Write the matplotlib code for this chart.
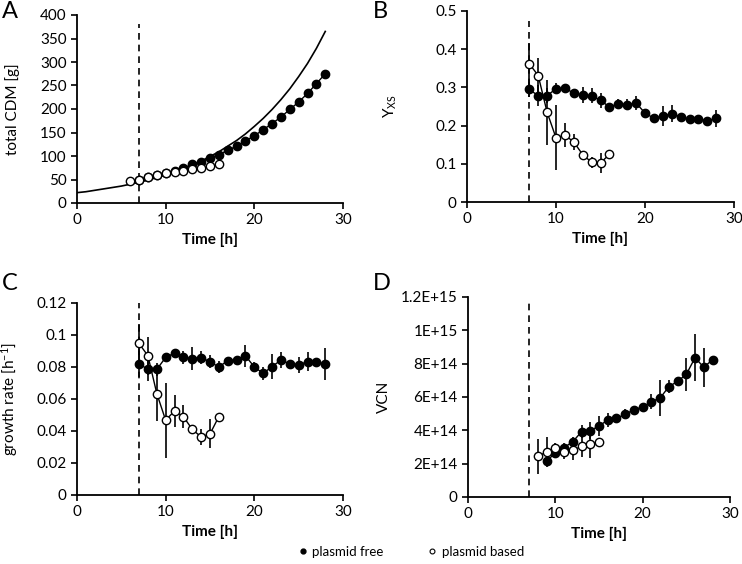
import matplotlib
matplotlib.use("Agg")
import matplotlib.pyplot as plt
from matplotlib.lines import Line2D

plt.rcParams['font.family'] = ['Lato', 'DejaVu Sans']
plt.rcParams['mathtext.default'] = 'regular'

# ---- data ----
# A: total CDM [g]
a_free_t = list(range(7, 29))
a_free = [50, 55, 60, 64, 68, 74.6, 82, 87, 96, 103, 112, 121, 132, 143, 156, 169,
          183, 199, 215, 233, 254, 275]
a_free_err = [0] * 20 + [4, 7]
a_based_t = list(range(6, 17))
a_based = [46, 50, 55, 60, 63, 67, 68, 72, 75, 78, 82]
a_model_t = list(range(0, 29))
a_model = [22, 24, 27, 30, 33, 36, 40, 44, 49, 54, 60, 66, 73, 81, 89, 99, 109, 121,
           133, 147, 163, 180, 199, 220, 243, 269, 297, 329, 365]

# B: Yxs
b_free_t = list(range(7, 29))
b_free = [0.295, 0.278, 0.278, 0.297, 0.298, 0.285, 0.280, 0.278, 0.266, 0.249, 0.257,
          0.255, 0.259, 0.233, 0.219, 0.225, 0.231, 0.223, 0.216, 0.217, 0.213, 0.219]
b_free_err = [0.02, 0.027, 0.02, 0.015, 0.01, 0.005, 0.02, 0.02, 0.02, 0.005, 0.013,
              0.015, 0.018, 0.005, 0.008, 0.027, 0.022, 0.005, 0.005, 0.005, 0.005, 0.022]
b_based_t = list(range(7, 17))
b_based = [0.362, 0.331, 0.235, 0.168, 0.175, 0.157, 0.124, 0.104, 0.102, 0.125]
b_based_err = [0.055, 0.045, 0.085, 0.085, 0.031, 0.02, 0.004, 0.015, 0.025, 0.004]

# C: growth rate [1/h]
c_free_t = list(range(7, 29))
c_free = [0.082, 0.0785, 0.0785, 0.086, 0.0887, 0.086, 0.0853, 0.0858, 0.0833, 0.080,
          0.084, 0.0843, 0.087, 0.080, 0.076, 0.0803, 0.0843, 0.082, 0.0814, 0.0833,
          0.0833, 0.0816]
c_free_err = [0.008, 0.007, 0.004, 0.003, 0.002, 0.004, 0.007, 0.004, 0.004, 0.004,
              0.002, 0.002, 0.007, 0.003, 0.004, 0.008, 0.005, 0.002, 0.005, 0.006,
              0.002, 0.010]
c_based_t = list(range(7, 17))
c_based = [0.0947, 0.087, 0.0634, 0.0467, 0.0526, 0.049, 0.041, 0.0363, 0.0382, 0.049]
c_based_err = [0.0123, 0.012, 0.017, 0.0234, 0.01, 0.007, 0.001, 0.005, 0.009, 0.001]

# D: VCN
d_free_t = list(range(9, 29))
d_free = [2.16e14, 2.64e14, 2.96e14, 3.32e14, 3.92e14, 3.98e14, 4.26e14, 4.62e14,
          4.72e14, 4.96e14, 5.24e14, 5.4e14, 5.72e14, 5.94e14, 6.62e14, 6.94e14,
          7.36e14, 8.36e14, 7.78e14, 8.24e14]
d_free_err = [0.2e14, 0.2e14, 0.3e14, 0.3e14, 0.4e14, 0.5e14, 0.6e14, 0.4e14, 0.1e14,
              0.3e14, 0.1e14, 0.1e14, 0.45e14, 1.1e14, 0.4e14, 0.2e14, 1.0e14, 1.4e14,
              1.15e14, 0]
d_based_t = list(range(8, 16))
d_based = [2.44e14, 2.7e14, 2.96e14, 2.7e14, 2.8e14, 3.04e14, 3.16e14, 3.28e14]
d_based_err = [1.05e14, 0.9e14, 0.3e14, 0.4e14, 0.55e14, 0.65e14, 0.8e14, 0]
d_ticks = [0, 2e14, 4e14, 6e14, 8e14, 1e15, 1.2e15]
d_ticklabels = ['0', '2E+14', '4E+14', '6E+14', '8E+14', '1E+15', '1.2E+15']

feed_start = 7

W, H = 742, 564
fig = plt.figure(figsize=(W / 100, H / 100), dpi=100)


def px_axes(left, top, right, bottom):
    return fig.add_axes([left / W, 1 - bottom / H, (right - left) / W, (bottom - top) / H])


def style(ax, ylabel, ylab_x):
    for s in ['top', 'right']:
        ax.spines[s].set_visible(False)
    for s in ['left', 'bottom']:
        ax.spines[s].set_linewidth(1.3)
    ax.tick_params(direction='out', length=4, width=1.2, labelsize=11)
    ax.set_xlim(0, 30)
    ax.set_xticks([0, 10, 20, 30])
    ax.set_xlabel('Time [h]', fontsize=11, fontweight='bold')
    ax.set_ylabel(ylabel, fontsize=11)
    ax.yaxis.set_label_coords(ylab_x, 0.5)


def series(ax, t, y, err, filled):
    fc = 'black' if filled else 'white'
    ax.errorbar(t, y, yerr=err, fmt='-o', color='black', lw=1, ms=6, mfc=fc, mec='black',
                mew=1, elinewidth=1.2, capsize=0, zorder=3 if filled else 4)


ax_a = px_axes(77, 15, 343, 203)
ax_a.plot(a_model_t, a_model, color='black', lw=1.2, zorder=2)
series(ax_a, a_free_t, a_free, a_free_err, True)
ax_a.plot(a_based_t, a_based, 'o', color='black', ms=6, mfc='white', mew=1, zorder=4)
ax_a.axvline(feed_start, ymax=0.95, color='black', ls=(0, (4, 3)), lw=1.2)
ax_a.set_ylim(0, 400)
ax_a.set_yticks(range(0, 401, 50))
style(ax_a, 'total CDM [g]', -0.215)

ax_b = px_axes(467, 11, 734, 202)
series(ax_b, b_free_t, b_free, b_free_err, True)
series(ax_b, b_based_t, b_based, b_based_err, False)
ax_b.axvline(feed_start, ymax=0.95, color='black', ls=(0, (4, 3)), lw=1.2)
ax_b.set_ylim(0, 0.5)
ax_b.set_yticks([0, 0.1, 0.2, 0.3, 0.4, 0.5])
ax_b.set_yticklabels(['0', '0.1', '0.2', '0.3', '0.4', '0.5'])
style(ax_b, 'Y$_{XS}$', -0.255)

ax_c = px_axes(77, 303, 343, 495)
series(ax_c, c_free_t, c_free, c_free_err, True)
series(ax_c, c_based_t, c_based, c_based_err, False)
ax_c.axvline(feed_start, ymax=1.0, color='black', ls=(0, (4, 3)), lw=1.2)
ax_c.set_ylim(0, 0.12)
ax_c.set_yticks([0, 0.02, 0.04, 0.06, 0.08, 0.1, 0.12])
ax_c.set_yticklabels(['0', '0.02', '0.04', '0.06', '0.08', '0.1', '0.12'])
style(ax_c, 'growth rate [h$^{-1}$]', -0.215)

ax_d = px_axes(468, 297, 730, 497)
series(ax_d, d_free_t, d_free, d_free_err, True)
series(ax_d, d_based_t, d_based, d_based_err, False)
ax_d.axvline(feed_start, ymax=0.97, color='black', ls=(0, (4, 3)), lw=1.2)
ax_d.set_ylim(0, 1.2e15)
ax_d.set_yticks(d_ticks)
ax_d.set_yticklabels(d_ticklabels)
style(ax_d, 'VCN', -0.295)

for x, y, letter in [(2, 1, 'A'), (373, 1, 'B'), (2, 273, 'C'), (373, 273, 'D')]:
    fig.text(x / W, 1 - y / H, letter, fontsize=17, va='top', ha='left')

handles = [Line2D([], [], marker='o', ls='none', color='black', ms=3.5),
           Line2D([], [], marker='o', ls='none', color='black', mfc='white', ms=3.5, mew=0.8)]
fig.legend(handles, ['plasmid free', 'plasmid based'], loc='center',
           bbox_to_anchor=(410 / W, 1 - 552 / H), ncol=2, frameon=False, fontsize=9.5,
           handletextpad=0.2, columnspacing=3.2, handlelength=1)

fig.savefig('out.png', dpi=100)
